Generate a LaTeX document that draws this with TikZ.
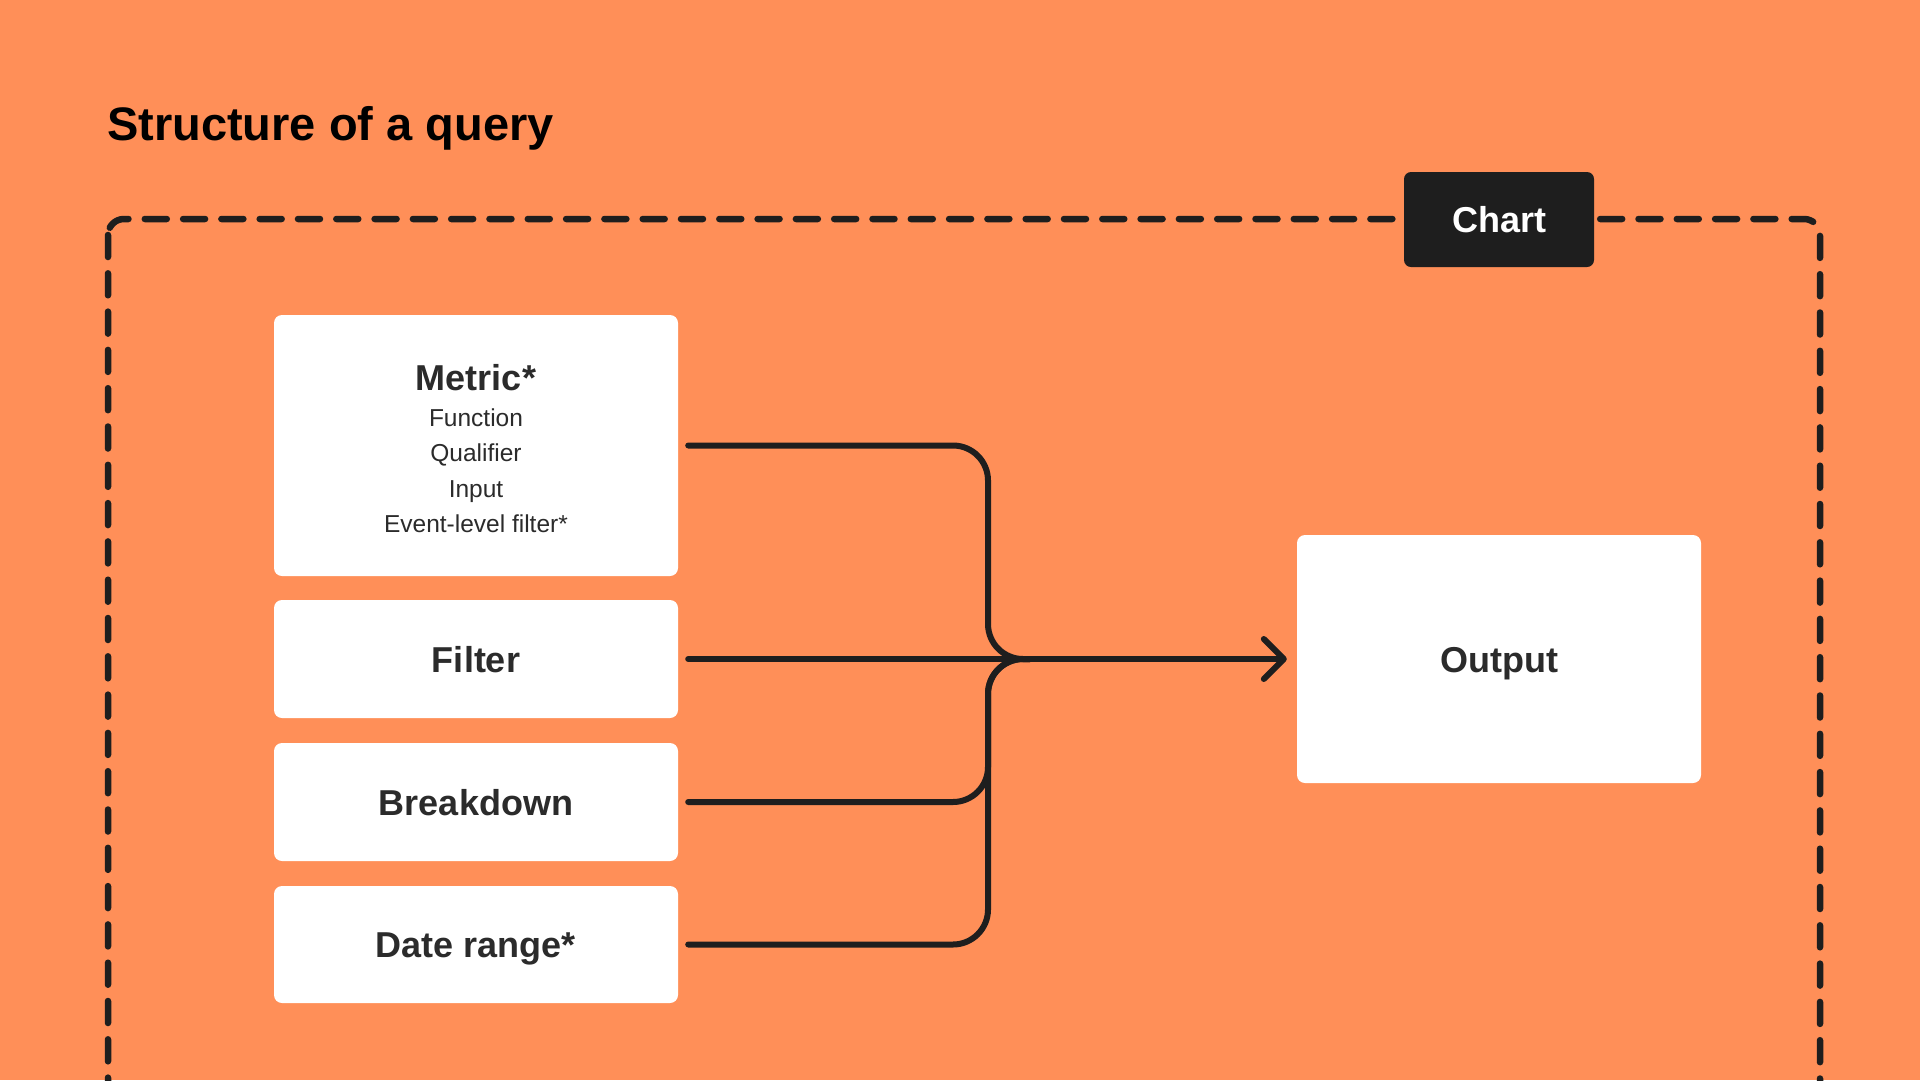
\documentclass[tikz,border=0pt]{standalone}
\usepackage{fontspec}
\setmainfont{Liberation Sans}
\usetikzlibrary{arrows.meta}
\definecolor{bg}{HTML}{FF8F58}
\definecolor{ink}{HTML}{1E1E1E}
\definecolor{boxtext}{HTML}{2B2B2B}
\begin{document}
\begin{tikzpicture}[x=1pt, y=-1pt,
    inbox/.style={fill=white, rounded corners=8pt, minimum width=404pt, inner sep=0pt,
        text=boxtext, font=\fontsize{36}{43}\selectfont\bfseries, text height=26pt, text depth=0pt},
    wire/.style={draw=ink, line width=6pt, rounded corners=35pt, line cap=round},
    frame/.style={draw=ink, line width=6.5pt, rounded corners=16pt, line cap=round,
        dash pattern=on 22pt off 16.3pt},
    tag/.style={fill=ink, rounded corners=7pt, minimum width=190pt, minimum height=95pt,
        text=white, font=\fontsize{36}{43}\selectfont\bfseries, text height=26pt, text depth=0pt}]
        \fill[bg] (0,0) rectangle (1920,1080);
        \useasboundingbox (0,0) rectangle (1920,1080);
        \node[anchor=base west, inner sep=0pt, font=\fontsize{47}{56}\selectfont\bfseries] (title) at (107,140) {Structure of a query};
        % chart frame
        \draw[frame] (108,219) rectangle (1820,1140);
        \node[tag] (chart) at (1499,219.5) {Chart};
        % query parts
        \node[inbox, minimum height=261pt, align=center, font=\fontsize{24.5}{35.5}\selectfont, text height=, text depth=] (metric) at (476,445.5)
            {{\fontsize{36}{43}\selectfont\bfseries\rule{0pt}{33pt}Metric*}\\Function\\Qualifier\\Input\\Event-level filter*};
        \node[inbox, minimum height=118pt] (filter) at (476,659) {Filter};
        \node[inbox, minimum height=118pt] (breakdown) at (476,802) {Breakdown};
        \node[inbox, minimum height=117pt] (daterange) at (476,944.5) {Date range*};
        \node[inbox, minimum height=248pt] (output) at (1499,659) {Output};
        % connectors
        \coordinate (bend) at (988,659);
        \coordinate (merge) at (1030,659);
        \draw[wire] ([xshift=10pt]metric.east) -| (bend) -- (merge);
        \draw[wire] ([xshift=10pt]breakdown.east) -| (bend) -- (merge);
        \draw[wire] ([xshift=10pt]daterange.east) -| (bend) -- (merge);
        \draw[wire, -{Straight Barb[length=20pt, width=40pt, round]}] ([xshift=10pt]filter.east) -- ([xshift=-10pt]output.west);
    \end{tikzpicture}
\end{document}
